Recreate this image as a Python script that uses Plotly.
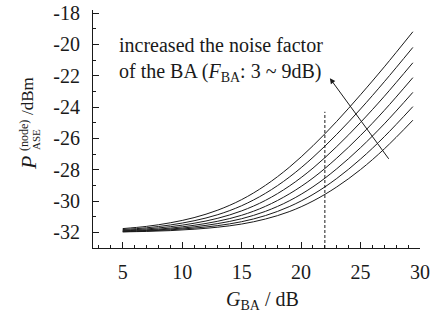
import plotly.graph_objects as go

# G_BA (dB) sample positions
G = [5, 7, 9, 11, 13, 15, 17, 19, 21, 23, 25, 27, 29.4]

# P_ASE(node) in dBm for noise factor F_BA = 3 ... 9 dB (bottom to top)
P_F3 = [-31.97, -31.94, -31.89, -31.80, -31.67, -31.47, -31.15, -30.68, -30.00, -29.10, -27.99, -26.67, -24.84]
P_F4 = [-31.96, -31.91, -31.84, -31.73, -31.57, -31.32, -30.93, -30.36, -29.58, -28.56, -27.32, -25.89, -23.97]
P_F5 = [-31.93, -31.88, -31.79, -31.65, -31.44, -31.13, -30.66, -29.99, -29.09, -27.94, -26.59, -25.07, -23.06]
P_F6 = [-31.90, -31.84, -31.73, -31.55, -31.29, -30.91, -30.34, -29.55, -28.53, -27.26, -25.81, -24.21, -22.12]
P_F7 = [-31.87, -31.78, -31.64, -31.42, -31.10, -30.63, -29.96, -29.05, -27.90, -26.52, -24.98, -23.31, -21.17]
P_F8 = [-31.82, -31.71, -31.53, -31.26, -30.87, -30.30, -29.51, -28.48, -27.21, -25.74, -24.12, -22.38, -20.19]
P_F9 = [-31.76, -31.62, -31.39, -31.06, -30.58, -29.91, -29.00, -27.85, -26.47, -24.91, -23.21, -21.43, -19.19]
series = [P_F3, P_F4, P_F5, P_F6, P_F7, P_F8, P_F9]

# dashed marker line at G_BA = 22 dB
marker_G = 22
marker_top = -24.3

# arrow (tail -> head) in data units
arrow_tail = (27.46, -27.4)
arrow_head = (22.42, -22.16)

x_ticks = [5, 10, 15, 20, 25, 30]
x_ticktext = ["5", "10", "15", "20", "25", "30"]
y_ticks = [-32, -30, -28, -26, -24, -22, -20, -18]
y_ticktext = ["-32", "-30", "-28", "-26", "-24", "-22", "-20", "-18"]

FONT = "Liberation Serif"
INK = "#1a1a1a"

fig = go.Figure()
for s in series:
    fig.add_trace(go.Scatter(x=G, y=s, mode="lines", line=dict(color=INK, width=1, shape="spline", smoothing=1.0),
                             showlegend=False, hoverinfo="skip", cliponaxis=False))

fig.add_trace(go.Scatter(x=[marker_G, marker_G], y=[-33, marker_top], mode="lines",
                         line=dict(color=INK, width=1, dash="3px,2px"), showlegend=False, hoverinfo="skip"))

L, R, T, B = 93, 13, 10, 72
W, H = 433, 320
pw, ph = W - L - R, H - T - B

def px(xp):
    return (xp - L) / pw

def py(yp):
    return (H - B - yp) / ph

fig.update_layout(
    width=W, height=H,
    margin=dict(l=L, r=R, t=T, b=B, pad=0, autoexpand=False),
    paper_bgcolor="white", plot_bgcolor="white",
    font=dict(family=FONT, size=20, color=INK),
    xaxis=dict(range=[2.5, 30], tickvals=x_ticks, ticktext=x_ticktext, showgrid=False, zeroline=False,
               showline=True, linecolor=INK, linewidth=1, ticks="inside", ticklen=6, tickcolor=INK,
               ticklabelstandoff=6, automargin=False,
               tickfont=dict(family=FONT, size=20, color=INK),
               minor=dict(dtick=1, tick0=0, ticks="inside", ticklen=3, tickcolor=INK, showgrid=False)),
    yaxis=dict(range=[-33, -17.8], tickvals=y_ticks, ticktext=y_ticktext, showgrid=False, zeroline=False,
               showline=True, linecolor=INK, linewidth=1, ticks="inside", ticklen=6, tickcolor=INK,
               ticklabelstandoff=8, automargin=False,
               tickfont=dict(family=FONT, size=20, color=INK),
               minor=dict(dtick=1, tick0=0, ticks="inside", ticklen=3, tickcolor=INK, showgrid=False)),
)

ann = []
# text annotation
ann.append(dict(xref="paper", yref="paper", x=px(117), y=py(59), xanchor="left", yanchor="middle", align="left",
                text="increased the noise factor<br>of the BA (<i>F</i><sub>BA</sub>: 3 ~ 9dB)",
                showarrow=False, font=dict(size=20, family=FONT, color=INK)))
# arrow
ann.append(dict(x=arrow_head[0], y=arrow_head[1], ax=arrow_tail[0], ay=arrow_tail[1], xref="x", yref="y",
                axref="x", ayref="y", text="", showarrow=True, arrowhead=2, arrowsize=1.1, arrowwidth=1,
                arrowcolor=INK))
# x title
ann.append(dict(xref="paper", yref="paper", x=px(262), y=py(300), xanchor="center", yanchor="middle",
                text="<i>G</i><sub>BA</sub> / dB", showarrow=False, font=dict(size=20, family=FONT, color=INK)))
# y title pieces (rotated)
ann.append(dict(xref="paper", yref="paper", x=px(29), y=py(163), xanchor="center", yanchor="middle",
                textangle=-90, text="<i>P</i>", showarrow=False, font=dict(size=22, family=FONT, color=INK)))
ann.append(dict(xref="paper", yref="paper", x=px(24), y=py(136), xanchor="center", yanchor="middle",
                textangle=-90, text="(node)", showarrow=False, font=dict(size=12, family=FONT, color=INK)))
ann.append(dict(xref="paper", yref="paper", x=px(36), y=py(140), xanchor="center", yanchor="middle",
                textangle=-90, text="ASE", showarrow=False, font=dict(size=11, family=FONT, color=INK)))
ann.append(dict(xref="paper", yref="paper", x=px(27), y=py(96), xanchor="center", yanchor="middle",
                textangle=-90, text="/dBm", showarrow=False, font=dict(size=17, family=FONT, color=INK)))
fig.update_layout(annotations=ann)

fig.write_html("out.html", config={"displayModeBar": False})

# remove the browser's default page margin so the figure sits at the window's top-left corner
with open("out.html", "r", encoding="utf-8") as f:
    html = f.read()
html = html.replace("<head>", "<head><style>html,body{margin:0;padding:0;overflow:hidden;}</style>", 1)
with open("out.html", "w", encoding="utf-8") as f:
    f.write(html)
